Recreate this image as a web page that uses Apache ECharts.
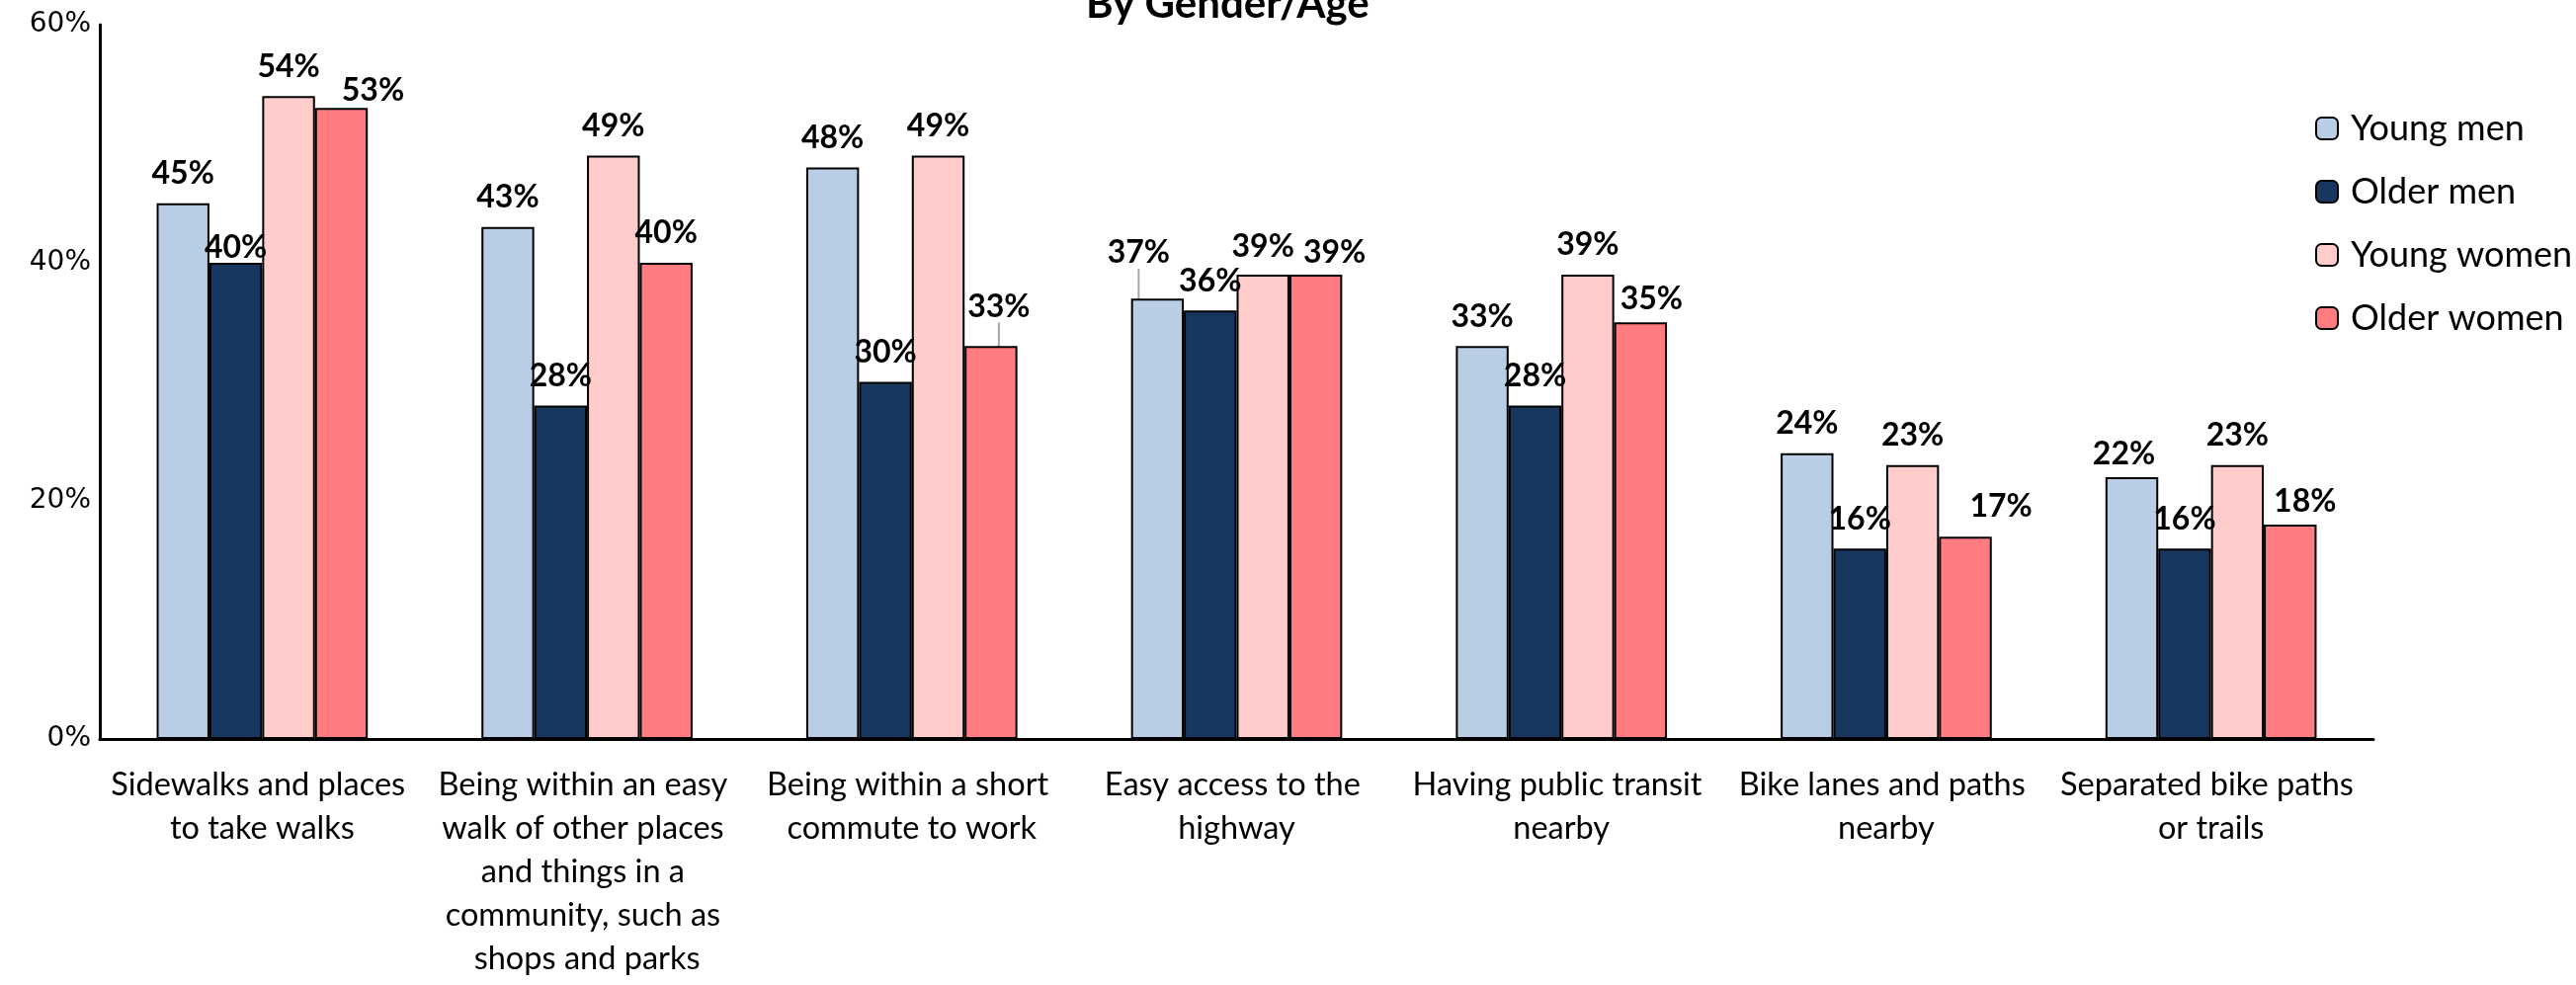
<!DOCTYPE html>
<html><head><meta charset="utf-8">
<script src="https://cdn.jsdelivr.net/npm/echarts@6/dist/echarts.min.js"></script>
<style>html,body{margin:0;padding:0;background:#fff}#c{width:2607px;height:997px}</style>
</head><body><div id="c"></div>
<script>
const titleText = 'By Gender/Age';
const categories = [
  'Sidewalks and places to take walks',
  'Being within an easy walk of other places and things in a community, such as shops and parks',
  'Being within a short commute to work',
  'Easy access to the highway',
  'Having public transit nearby',
  'Bike lanes and paths nearby',
  'Separated bike paths or trails'
];
const seriesNames = ['Young men', 'Older men', 'Young women', 'Older women'];
const youngMen   = [45, 43, 48, 37, 33, 24, 22];
const olderMen   = [40, 28, 30, 36, 28, 16, 16];
const youngWomen = [54, 49, 49, 39, 39, 23, 23];
const olderWomen = [53, 40, 33, 39, 35, 17, 18];
const yTicks = [0, 20, 40, 60];

// style: manual label nudges (series index-category index) as in the original
const labelNudge = {
  '1-0': [0, 15], '3-0': [32, 12], '3-2': [8, -10], '0-3': [-19, -16],
  '2-3': [0, 2], '3-3': [19, 8], '3-4': [11, 6], '3-5': [36, 0], '0-6': [-8, 7], '3-6': [15, 7]
};
const leaderLines = ['3-2', '0-3'];

const colors = ['#B9CDE5', '#17375E', '#FFCCCC', '#FF7C80'];
const values = [youngMen, olderMen, youngWomen, olderWomen];
const FONT = 'Lato, "Open Sans", sans-serif';

const chart = echarts.init(document.getElementById('c'), null, {renderer: 'canvas'});
chart.setOption({
  backgroundColor: '#fff',
  animation: false,
  title: {
    text: titleText,
    left: 1094, top: -22,
    textStyle: {fontFamily: FONT, fontWeight: 'bold', fontSize: 42, color: '#000'}
  },
  legend: {
    orient: 'vertical',
    left: 2338, top: 107,
    itemWidth: 22, itemHeight: 22, itemGap: 28,
    textStyle: {fontFamily: FONT, fontSize: 36, color: '#000', padding: [0, 0, 0, 8]},
    data: seriesNames
  },
  grid: {left: 101, right: 205, top: 25, bottom: 249, containLabel: false},
  xAxis: {
    type: 'category',
    data: categories,
    axisLine: {lineStyle: {color: '#000', width: 3}},
    axisTick: {show: false},
    axisLabel: {
      interval: 0, margin: 25,
      fontFamily: FONT, fontSize: 32.5, color: '#000',
      lineHeight: 44, width: 330, overflow: 'break', align: 'center'
    }
  },
  yAxis: {
    type: 'value',
    min: yTicks[0], max: yTicks[yTicks.length - 1], interval: 20,
    axisLine: {show: true, lineStyle: {color: '#000', width: 3}},
    axisTick: {show: false},
    splitLine: {show: false},
    axisLabel: {formatter: '{value}%', fontFamily: '"DejaVu Sans", sans-serif', fontSize: 28, color: '#000', margin: 9}
  },
  series: seriesNames.map((name, i) => ({
    name: name,
    type: 'bar',
    data: values[i].map((v, j) => ({
      value: v,
      labelLine: {show: leaderLines.includes(i + '-' + j)}
    })),
    barGap: '0%',
    barCategoryGap: '35%',
    itemStyle: {color: colors[i], borderColor: '#000', borderWidth: 2},
    label: {
      show: true, position: 'top', distance: 14,
      formatter: '{c}%',
      fontFamily: FONT, fontWeight: 'bold', fontSize: 32, color: '#000'
    },
    labelLine: {lineStyle: {color: '#A6A6A6', width: 2}},
    labelLayout: function (p) {
      const n = labelNudge[p.seriesIndex + '-' + p.dataIndex];
      return n ? {dx: n[0], dy: n[1]} : {};
    }
  }))
});
</script></body></html>
